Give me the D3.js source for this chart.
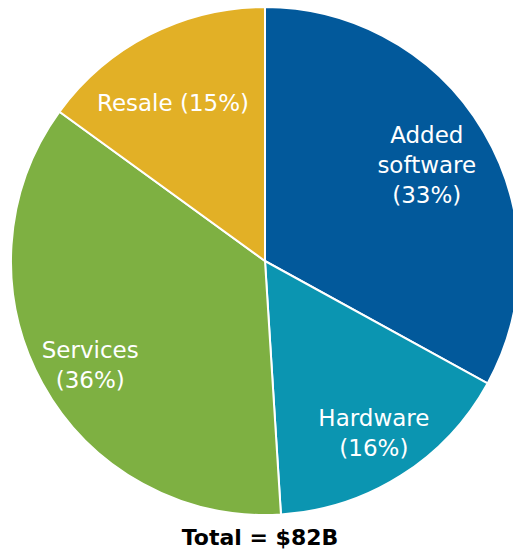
<!DOCTYPE html>
<html>
<head>
<meta charset="utf-8">
<script src="https://cdn.jsdelivr.net/npm/d3@7"></script>
<style>
  body { margin: 0; background: #fff; }
  #myPlot { width: 513px; height: 552px; overflow: hidden; }
</style>
</head>
<body>
<div id="myPlot"></div>
<script>
const categories = ["Added software", "Hardware", "Services", "Resale"]
const shares = [33, 16, 36, 15]
const labelLines = [["Added", "software", "(33%)"], ["Hardware", "(16%)"], ["Services", "(36%)"], ["Resale (15%)"]]
const colors = ["#02599b", "#0b95b1", "#7eb042", "#e2b026"]
const totalLabel = "Total = $82B"

const rootSelector = "#myPlot"
const clientWidth = 513
const clientHeight = 552
const cx = 265
const cy = 261
const radius = 254

// label anchor as fraction of radius, angle offset (rad) from slice middle
const labelPos = [
    {r: 0.74, da: 0},
    {r: 0.80, da: 0},
    {r: 0.80, da: -0.033},
    {r: 0.72, da: -0.056}
]

const svg = d3.select(rootSelector).append("svg")
    .attr("width", clientWidth)
    .attr("height", clientHeight)

const g = svg.append("g")
    .attr("transform", `translate(${cx}, ${cy})`)

const pie = d3.pie().sort(null).value(d => d)
const arcs = pie(shares)

const arc = d3.arc().innerRadius(0).outerRadius(radius)

g.selectAll(".slice")
    .data(arcs)
    .enter().append("path")
    .attr("class", "slice")
    .attr("d", arc)
    .attr("fill", (d, i) => colors[i])
    .attr("stroke", "#fff")
    .attr("stroke-width", 2)

const lineHeight = 30

arcs.forEach((d, i) => {
    const mid = (d.startAngle + d.endAngle) / 2 + labelPos[i].da
    const r = radius * labelPos[i].r
    const x = r * Math.sin(mid)
    const y = -r * Math.cos(mid)
    const lines = labelLines[i]
    const text = g.append("text")
        .attr("text-anchor", "middle")
        .attr("fill", "#fff")
        .attr("font-family", "DejaVu Sans, sans-serif")
        .attr("font-size", 23)
    lines.forEach((line, j) => {
        text.append("tspan")
            .attr("x", x)
            .attr("y", y + (j - (lines.length - 1) / 2) * lineHeight)
            .attr("dy", "0.35em")
            .text(line)
    })
})

svg.append("text")
    .attr("x", 260)
    .attr("y", 537)
    .attr("dy", "0.35em")
    .attr("text-anchor", "middle")
    .attr("font-family", "DejaVu Sans, sans-serif")
    .attr("font-weight", "bold")
    .attr("font-size", 22)
    .attr("fill", "#000")
    .text(totalLabel)
</script>
</body>
</html>
